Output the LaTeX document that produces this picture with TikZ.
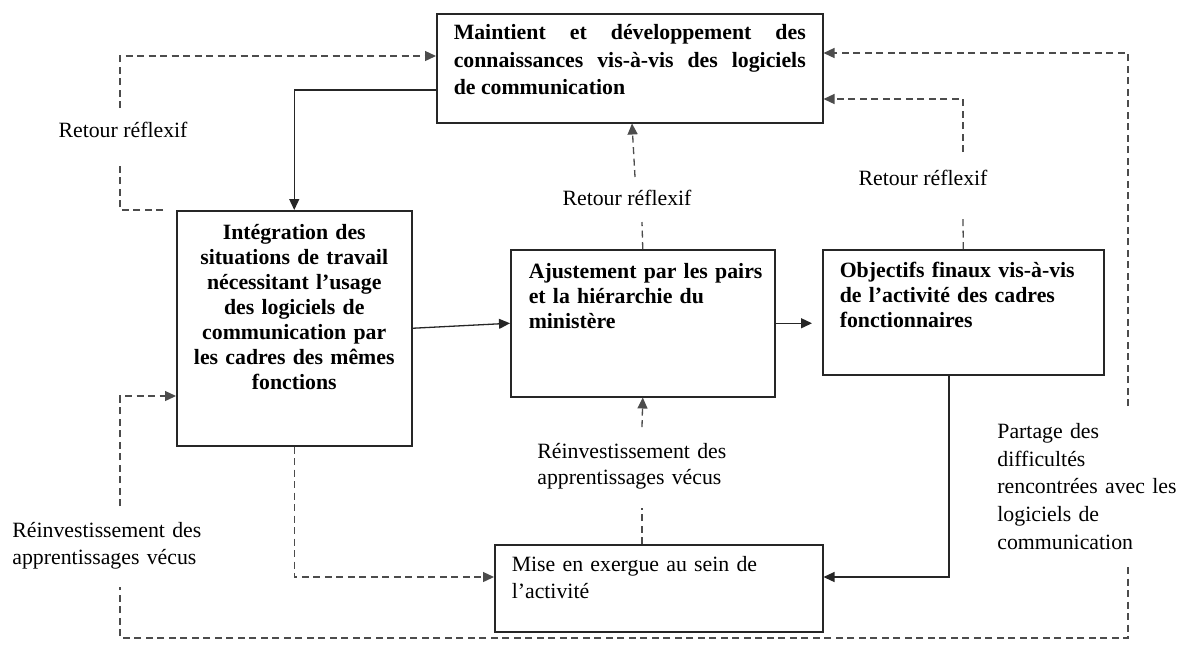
\documentclass[tikz,border=0pt]{standalone}
\usepackage{fontspec}
\setmainfont{Liberation Serif}
\usetikzlibrary{arrows.meta}
\hbadness=10000
\hfuzz=30pt
\begin{document}
\begin{tikzpicture}[x=0.5pt,y=-0.5pt,
  box/.style={draw=black!85, line width=0.75pt, inner ysep=0pt, anchor=north west},
  conn/.style={draw=black!85, line width=0.65pt},
  dconn/.style={draw=black!70, line width=0.65pt, dash pattern=on 3.5pt off 2.25pt},
  arr/.style={-{Triangle[length=5.5pt,width=5pt]}},
  lbl/.style={inner sep=0pt, text height=0pt, text depth=0pt, anchor=north west, align=left},
  rlbl/.style={inner sep=0pt, anchor=base, font=\fontsize{10.9pt}{13pt}\selectfont}]
\useasboundingbox (0,0) rectangle (1181,644);

% boxes
\node[box, text width=176pt, inner xsep=8.5pt, text height=13pt, text depth=41.5pt, align=justify,
  font=\fontsize{10.9pt}{13.75pt}\selectfont\bfseries] (A) at (436,13)
  {Maintient et développement des\linebreak connaissances vis-à-vis des logiciels\linebreak de communication};
\node[box, text width=102.5pt, inner xsep=7.5pt, text height=14.5pt, text depth=103pt, align=center,
  font=\fontsize{10.9pt}{12.5pt}\selectfont\bfseries] (B) at (176,210)
  {Intégration des\\situations de travail\\nécessitant l’usage\\des logiciels de\\communication par\\les cadres des mêmes\\fonctions};
\node[box, text width=114pt, inner xsep=9pt, text height=14.5pt, text depth=59pt, align=left,
  font=\fontsize{10.9pt}{12.5pt}\selectfont\bfseries] (C) at (510,249)
  {\mbox{Ajustement par les pairs}\\et la hiérarchie du\\ministère};
\node[box, text width=123.5pt, inner xsep=8.5pt, text height=14pt, text depth=48.5pt, align=left,
  font=\fontsize{10.9pt}{12.5pt}\selectfont\bfseries] (D) at (822,249)
  {\mbox{Objectifs finaux vis-à-vis}\\de l’activité des cadres\\fonctionnaires};
\node[box, text width=147pt, inner xsep=8.5pt, text height=13.5pt, text depth=30pt, align=left,
  font=\fontsize{10.9pt}{13.5pt}\selectfont] (E) at (494,544)
  {Mise en exergue au sein de\\l’activité};

% labels
\node[rlbl] (L1) at (123,137) {Retour réflexif};
\node[rlbl] (L2) at (627,205) {Retour réflexif};
\node[rlbl] (L3) at (923,185) {Retour réflexif};
\node[lbl, text width=100pt, font=\fontsize{10.9pt}{13.5pt}\selectfont] (L4) at (12,536)
  {Réinvestissement des\\apprentissages vécus};
\node[lbl, text width=100pt, font=\fontsize{10.9pt}{13pt}\selectfont] (L5) at (537,457)
  {Réinvestissement des\\apprentissages vécus};
\node[lbl, text width=95pt, font=\fontsize{10.9pt}{13.85pt}\selectfont] (L6) at (997,437)
  {Partage des\\difficultés\\rencontrées avec les\\logiciels de\\communication};

% coordinates for gaps around labels
\coordinate (s1) at (163,210);
\coordinate (g1a) at (120,163);
\coordinate (g1b) at (120,108);
\coordinate (g2a) at (642,222);
\coordinate (g2b) at (635,177);
\coordinate (g3a) at (963,215);
\coordinate (g3b) at (963,152);
\coordinate (g4a) at (1128,406);
\coordinate (g4b) at (1128,567);
\coordinate (k1) at (1128,638);
\coordinate (g5a) at (120,587);
\coordinate (g5b) at (120,506);
\coordinate (g6a) at (642,508);
\coordinate (g6b) at (642,427);
\coordinate (d1) at (812,0 |- C.east);

% solid connectors
\draw[conn, arr] (A.west |- 0,90) -| (B.north);
\draw[conn, arr] (B.east) -- (C.west);
\draw[conn, arr] (C.east) -- (d1);
\draw[conn, arr] (949,0 |- D.south) |- (E.east |- 0,577);

% dashed connectors
\draw[dconn] (s1) -| (g1a);
\draw[dconn, arr] (g1b) |- (A.west |- 0,56);
\draw[dconn] (C.north) -- (g2a);
\draw[dconn, arr] (g2b) -- (632,0 |- A.south);
\draw[dconn] (D.north) -- (g3a);
\draw[dconn, arr] (g3b) |- (A.east |- 0,99);
\draw[dconn, arr] (g4a) |- (A.east |- 0,53);
\draw[dconn] (g4b) -- (k1) -| (g5a);
\draw[dconn, arr] (g5b) |- (B.west |- 0,396);
\draw[dconn, arr] (B.south) |- (E.west |- 0,577);
\draw[dconn] (642,0 |- E.north) -- (g6a);
\draw[dconn, arr] (g6b) -- (C.south);
\end{tikzpicture}
\end{document}
